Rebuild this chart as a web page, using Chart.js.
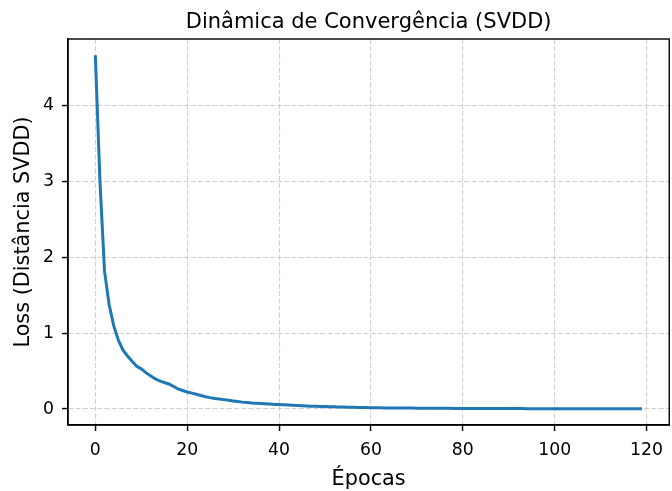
<!DOCTYPE html>
<html>
<head>
<meta charset="utf-8">
<script src="https://cdn.jsdelivr.net/npm/chart.js@4.4.1/dist/chart.umd.min.js"></script>
<style>
  html, body { margin: 0; padding: 0; background: #fff; }
  #wrap { width: 672px; height: 491px; }
</style>
</head>
<body>
<div id="wrap"><canvas id="lossChart" width="672" height="491"></canvas></div>
<script>
// textos do gráfico
const chartTitle = 'Dinâmica de Convergência (SVDD)';
const xTitle = 'Épocas';
const yTitle = 'Loss (Distância SVDD)';

// ticks dos eixos
const xTicks = [0, 20, 40, 60, 80, 100, 120];
const yTicks = [0, 1, 2, 3, 4];

// loss por época
const lossValues = [
  4.67, 3.02, 1.82, 1.38, 1.10, 0.91, 0.78, 0.70, 0.63, 0.565,
  0.53, 0.48, 0.44, 0.40, 0.37, 0.35, 0.33, 0.30, 0.265, 0.245,
  0.225, 0.21, 0.195, 0.178, 0.163, 0.15, 0.14, 0.132, 0.124, 0.115,
  0.107, 0.099, 0.091, 0.085, 0.079, 0.076, 0.072, 0.068, 0.065, 0.061,
  0.058, 0.055, 0.052, 0.049, 0.046, 0.043, 0.041, 0.038, 0.036, 0.034,
  0.032, 0.030, 0.029, 0.027, 0.026, 0.024, 0.023, 0.021, 0.020, 0.019,
  0.018, 0.017, 0.016, 0.015, 0.015, 0.014, 0.013, 0.013, 0.012, 0.012,
  0.011, 0.011, 0.010, 0.010, 0.010, 0.009, 0.009, 0.009, 0.008, 0.008,
  0.008, 0.008, 0.007, 0.007, 0.007, 0.007, 0.007, 0.006, 0.006, 0.006,
  0.006, 0.006, 0.006, 0.006, 0.005, 0.005, 0.005, 0.005, 0.005, 0.005,
  0.005, 0.005, 0.005, 0.005, 0.004, 0.004, 0.004, 0.004, 0.004, 0.004,
  0.004, 0.004, 0.004, 0.004, 0.004, 0.004, 0.004, 0.004, 0.004, 0.004
];

const FONT = '"DejaVu Sans", sans-serif';
const points = lossValues.map((v, i) => ({ x: i, y: v }));

// moldura completa + título centrado na área do gráfico (estilo matplotlib)
const framePlugin = {
  id: 'frame',
  afterDraw(chart) {
    const { ctx, chartArea: a } = chart;
    ctx.save();
    ctx.strokeStyle = '#000';
    ctx.lineWidth = 1.4;
    ctx.strokeRect(a.left, a.top, a.right - a.left, a.bottom - a.top);
    ctx.fillStyle = '#000';
    ctx.font = '21px ' + FONT;
    ctx.textAlign = 'center';
    ctx.textBaseline = 'alphabetic';
    ctx.fillText(chartTitle, (a.left + a.right) / 2, 28);
    ctx.restore();
  }
};

const gridStyle = {
  color: '#d0d0d0', lineWidth: 1.1,
  tickColor: '#000', tickLength: 6, tickWidth: 1.4
};
const borderStyle = { color: '#000', width: 1.4, dash: [5, 2.2] };

new Chart(document.getElementById('lossChart'), {
  type: 'line',
  data: {
    datasets: [{
      data: points,
      borderColor: '#1f77b4',
      backgroundColor: '#1f77b4',
      borderWidth: 3,
      pointRadius: 0,
      tension: 0,
      fill: false
    }]
  },
  options: {
    responsive: false,
    animation: false,
    layout: { padding: { top: 39, right: 0, left: 0, bottom: 0 } },
    plugins: { legend: { display: false }, tooltip: { enabled: false }, title: { display: false } },
    scales: {
      x: {
        type: 'linear', min: -5.95, max: 124.95,
        afterBuildTicks: (s) => { s.ticks = xTicks.map(v => ({ value: v })); },
        afterFit: (s) => { s.height = 66; },
        ticks: { font: { family: FONT, size: 17.3 }, color: '#000', padding: 9, maxRotation: 0 },
        grid: gridStyle,
        border: borderStyle,
        title: { display: true, text: xTitle, color: '#000', font: { family: FONT, size: 20.8, lineHeight: 1.1 }, padding: { top: 0, bottom: 0 } }
      },
      y: {
        type: 'linear', min: -0.211, max: 4.884,
        afterBuildTicks: (s) => { s.ticks = yTicks.map(v => ({ value: v })); },
        afterFit: (s) => { s.width = 68; },
        ticks: { font: { family: FONT, size: 17.3 }, color: '#000', padding: 8 },
        grid: gridStyle,
        border: borderStyle,
        title: { display: true, text: yTitle, color: '#000', font: { family: FONT, size: 20.8, lineHeight: 1.2 }, padding: { top: 11, bottom: 0 } }
      }
    }
  },
  plugins: [framePlugin]
});
</script>
</body>
</html>
